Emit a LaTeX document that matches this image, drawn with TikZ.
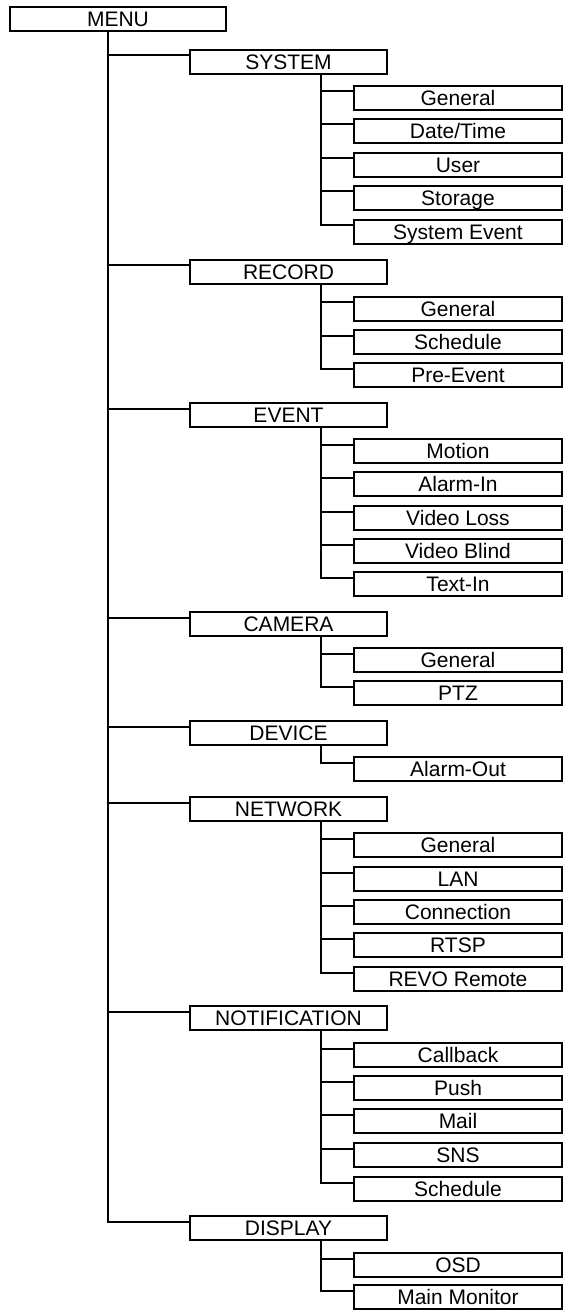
\documentclass[tikz,border=0pt]{standalone}
\usepackage{fontspec}
\setmainfont{Liberation Sans}
\usetikzlibrary{calc}
\tikzset{
  box/.style={draw, line width=2bp, inner sep=0pt, text height=15bp, text depth=0pt,
    minimum height=24bp, font=\fontsize{21bp}{25bp}\selectfont, anchor=center},
  rootbox/.style={box, minimum width=216bp},
  mainbox/.style={box, minimum width=197bp},
  subbox/.style={box, minimum width=208.6bp},
  link/.style={line width=2bp},
}
\newcommand\mkmain[3]{\node[mainbox] (#1) at (288.5,#2) {#3};
  \coordinate (#1-in) at ($(#1.north west)+(0,6.5)$);
  \coordinate (#1-v) at ($(#1.south west)+(131.7,0)$);}
\newcommand\mksub[3]{\node[subbox] (#1) at (458,#2) {#3};
  \coordinate (#1-in) at ($(#1.north west)+(0,6.5)$);}
\begin{document}
\begin{tikzpicture}[x=1bp,y=-1bp]
\useasboundingbox (0,0) rectangle (568,1311);
\node[rootbox] (menu) at (118,19) {MENU};
\coordinate (trunk) at ($(menu.south west)+(99,0)$);

\mkmain{system}{62}{SYSTEM}
\mksub{system-1}{98}{General}
\mksub{system-2}{131}{Date/Time}
\mksub{system-3}{165}{User}
\mksub{system-4}{198}{Storage}
\mksub{system-5}{232}{System Event}

\mkmain{record}{272}{RECORD}
\mksub{record-1}{309}{General}
\mksub{record-2}{342}{Schedule}
\mksub{record-3}{375}{Pre-Event}

\mkmain{event}{415}{EVENT}
\mksub{event-1}{451}{Motion}
\mksub{event-2}{484}{Alarm-In}
\mksub{event-3}{518}{Video Loss}
\mksub{event-4}{551}{Video Blind}
\mksub{event-5}{584}{Text-In}

\mkmain{camera}{624}{CAMERA}
\mksub{camera-1}{660}{General}
\mksub{camera-2}{693}{PTZ}

\mkmain{device}{733}{DEVICE}
\mksub{device-1}{769}{Alarm-Out}

\mkmain{network}{809}{NETWORK}
\mksub{network-1}{845}{General}
\mksub{network-2}{879}{LAN}
\mksub{network-3}{912}{Connection}
\mksub{network-4}{945}{RTSP}
\mksub{network-5}{979}{REVO Remote}

\mkmain{notification}{1018}{NOTIFICATION}
\mksub{notification-1}{1055}{Callback}
\mksub{notification-2}{1088}{Push}
\mksub{notification-3}{1121}{Mail}
\mksub{notification-4}{1155}{SNS}
\mksub{notification-5}{1189}{Schedule}

\mkmain{display}{1228}{DISPLAY}
\mksub{display-1}{1265}{OSD}
\mksub{display-2}{1297}{Main Monitor}

% trunk
\draw[link] (trunk) |- (display-in);
\foreach \m in {system,record,event,camera,device,network,notification}
  \draw[link] (trunk |- \m-in) -- (\m-in);

% sub branches
\draw[link] (system-v) |- (system-5-in);
\foreach \i in {1,...,4} \draw[link] (system-v |- system-\i-in) -- (system-\i-in);
\draw[link] (record-v) |- (record-3-in);
\foreach \i in {1,2} \draw[link] (record-v |- record-\i-in) -- (record-\i-in);
\draw[link] (event-v) |- (event-5-in);
\foreach \i in {1,...,4} \draw[link] (event-v |- event-\i-in) -- (event-\i-in);
\draw[link] (camera-v) |- (camera-2-in);
\draw[link] (camera-v |- camera-1-in) -- (camera-1-in);
\draw[link] (device-v) |- (device-1-in);
\draw[link] (network-v) |- (network-5-in);
\foreach \i in {1,...,4} \draw[link] (network-v |- network-\i-in) -- (network-\i-in);
\draw[link] (notification-v) |- (notification-5-in);
\foreach \i in {1,...,4} \draw[link] (notification-v |- notification-\i-in) -- (notification-\i-in);
\draw[link] (display-v) |- (display-2-in);
\draw[link] (display-v |- display-1-in) -- (display-1-in);
\end{tikzpicture}
\end{document}
